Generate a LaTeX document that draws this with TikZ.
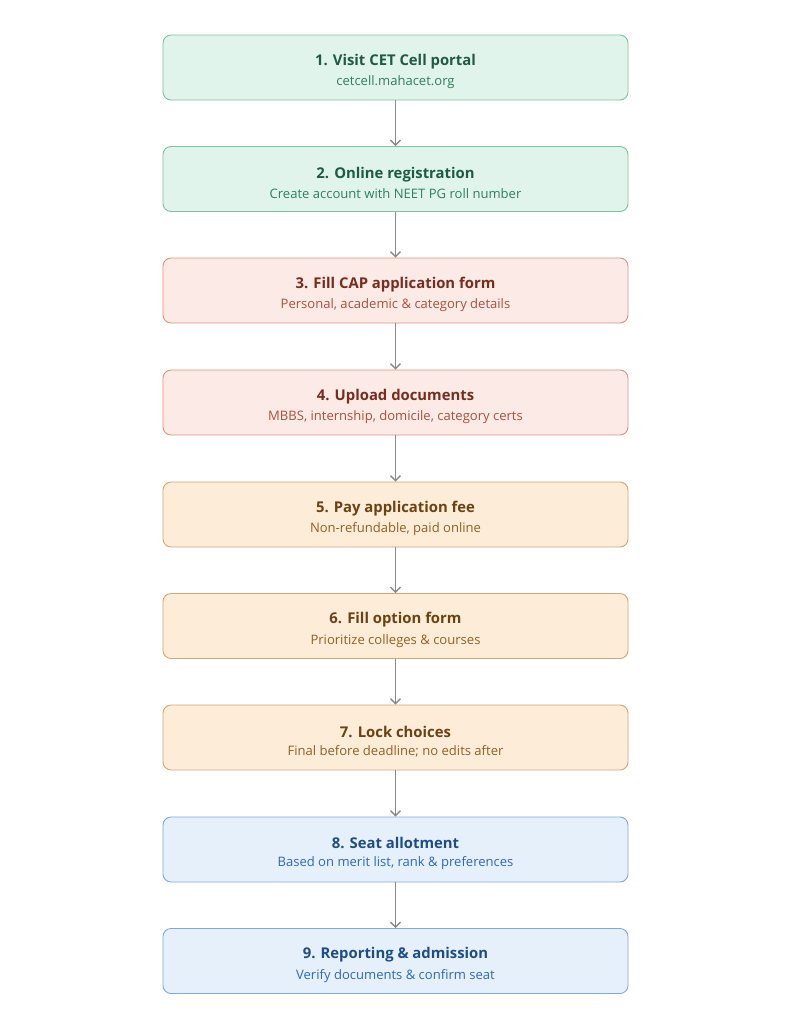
\documentclass[tikz,border=0pt]{standalone}
\usepackage{fontspec}
\setmainfont{Open Sans}
\usetikzlibrary{arrows.meta}
\definecolor{gfill}{HTML}{E1F4EC}\definecolor{gdraw}{HTML}{7DC3A3}\definecolor{gtitle}{HTML}{1D5B43}\definecolor{gsub}{HTML}{2F7F5E}
\definecolor{rfill}{HTML}{FCEAE6}\definecolor{rdraw}{HTML}{DF937F}\definecolor{rtitle}{HTML}{772D1E}\definecolor{rsub}{HTML}{A6533C}
\definecolor{ofill}{HTML}{FCECD8}\definecolor{odraw}{HTML}{D3A675}\definecolor{otitle}{HTML}{694312}\definecolor{osub}{HTML}{8E6324}
\definecolor{bfill}{HTML}{E6F0FB}\definecolor{bdraw}{HTML}{80A9D6}\definecolor{btitle}{HTML}{1E4D84}\definecolor{bsub}{HTML}{2F6AAE}
\definecolor{arr}{HTML}{8A8A8A}
\tikzset{
  stepbox/.style={draw=#1draw, fill=#1fill, rounded corners=8bp, line width=0.9bp,
    minimum width=465bp, minimum height=65bp, inner sep=0pt},
  steptext/.style={inner sep=0pt, align=center},
  conn/.style={draw=arr, line width=1.3bp, -{Straight Barb[length=5bp,width=10bp,line width=1.3bp]}}
}
\newcommand{\boxtext}[3]{{\fontsize{14.9}{20}\selectfont\bfseries\color{#1title}#2}\\[6bp]{\fontsize{13.1}{16}\selectfont\color{#1sub}#3}}
\newcommand{\stepnode}[6]{%
  \node[stepbox=#2] (#1) at (395.5,#3) {};
  \node[steptext] (#1t) at ([yshift=-4bp]#1.center) {\boxtext{#2}{#4}{#5}};}
\begin{document}
\begin{tikzpicture}[x=1bp,y=1bp]
\useasboundingbox[fill=white] (0,0) rectangle (791,-1024);
\stepnode{n1}{g}{-67.5}{1. Visit CET Cell portal}{cetcell.mahacet.org}{}
\stepnode{n2}{g}{-179}{2. Online registration}{Create account with NEET PG roll number}{}
\stepnode{n3}{r}{-290.5}{3. Fill CAP application form}{Personal, academic \& category details}{}
\stepnode{n4}{r}{-402.5}{4. Upload documents}{MBBS, internship, domicile, category certs}{}
\stepnode{n5}{o}{-514.5}{5. Pay application fee}{Non-refundable, paid online}{}
\stepnode{n6}{o}{-626}{6. Fill option form}{Prioritize colleges \& courses}{}
\stepnode{n7}{o}{-737.5}{7. Lock choices}{Final before deadline; no edits after}{}
\stepnode{n8}{b}{-849.5}{8. Seat allotment}{Based on merit list, rank \& preferences}{}
\stepnode{n9}{b}{-961}{9. Reporting \& admission}{Verify documents \& confirm seat}{}
\foreach \a/\b in {n1/n2,n2/n3,n3/n4,n4/n5,n5/n6,n6/n7,n7/n8,n8/n9}
  \draw[conn] (\a.south) -- (\b.north);
\end{tikzpicture}
\end{document}
